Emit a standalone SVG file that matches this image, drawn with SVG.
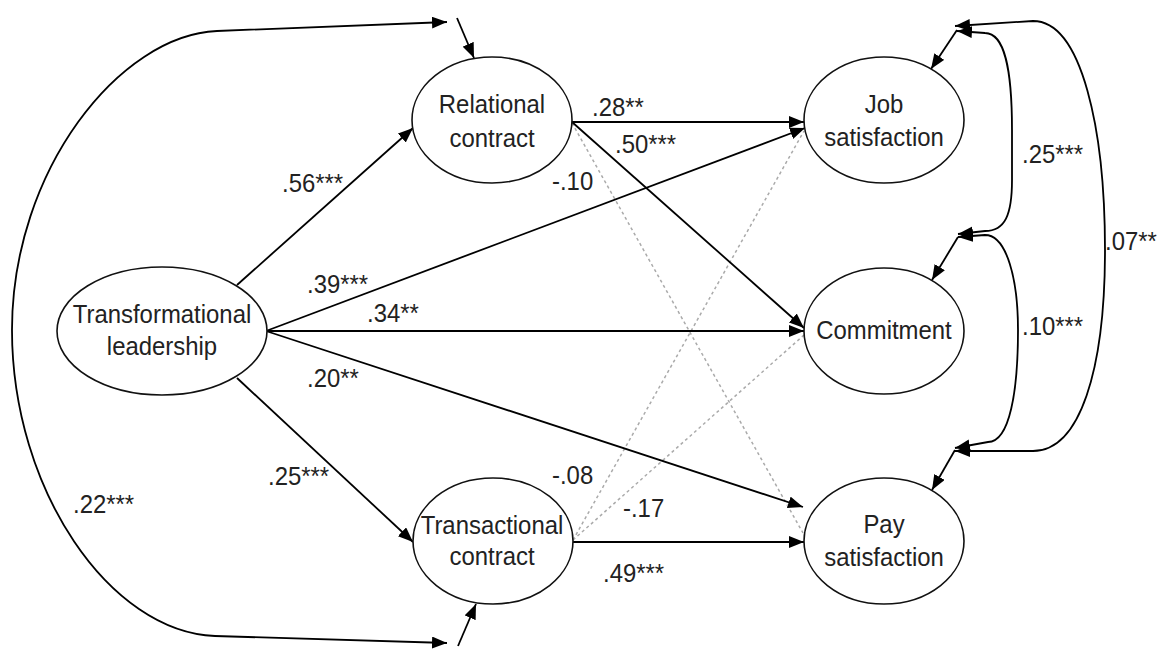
<svg xmlns="http://www.w3.org/2000/svg" width="1158" height="655" viewBox="0 0 1158 655">
<defs>
<marker id="arr" markerUnits="userSpaceOnUse" markerWidth="15" markerHeight="12" refX="15" refY="6" orient="auto-start-reverse" viewBox="0 0 15 12">
<path d="M0,0 L15,6 L0,12 z" fill="#000"/>
</marker>
<style>
.node ellipse{fill:#fff;stroke:#111;stroke-width:1.6}
.nt{font-family:"Liberation Sans",Arial,sans-serif;font-size:26px;fill:#222;text-anchor:middle}
.lb{font-family:"Liberation Sans",Arial,sans-serif;font-size:26px;fill:#222}
.c{fill:none;stroke:#000;stroke-width:1.8}
.a{marker-end:url(#arr)}
.b{marker-start:url(#arr);marker-end:url(#arr)}
.d{fill:none;stroke:#aaa;stroke-width:1.5;stroke-dasharray:3 3}
</style>
</defs>
<rect width="1158" height="655" fill="#fff"/>
<g id="connectors">
<line class="d" x1="572" y1="123" x2="803" y2="533"/>
<line class="d" x1="573" y1="540" x2="804" y2="131"/>
<line class="d" x1="573" y1="540" x2="804" y2="335"/>
<line class="c a" x1="237" y1="285" x2="413" y2="128"/>
<line class="c a" x1="237" y1="378" x2="413" y2="542"/>
<line class="c a" x1="266" y1="331" x2="805" y2="128"/>
<line class="c a" x1="267" y1="331" x2="804" y2="331"/>
<line class="c a" x1="266" y1="331" x2="803" y2="507"/>
<line class="c a" x1="572" y1="122" x2="804" y2="122"/>
<line class="c a" x1="572" y1="122" x2="804" y2="328"/>
<line class="c a" x1="573" y1="542" x2="804" y2="542"/>
<path class="c b" d="M447 22 L217 31 C120 35 12 170 12 330 C12 490 110 632 215 636 L447 643"/>
<line class="c a" x1="457" y1="18" x2="474" y2="58"/>
<line class="c a" x1="458" y1="646" x2="476" y2="604"/>
<path class="c b" d="M955 26 L1033 21 C1082 21 1105 130 1105 250 C1105 370 1080 451 1033 451 L955 451"/>
<path class="c b" d="M957 31 L985 33 C1005 33 1012 70 1012 130 L1012 180 C1012 215 1005 231 985 231 L958 234"/>
<path class="c b" d="M958 237 L985 235 C1007 235 1018 280 1018 330 C1018 390 1010 442 988 442 L955 448"/>
<line class="c a" x1="957" y1="30" x2="931" y2="69"/>
<line class="c a" x1="958" y1="237" x2="932" y2="280"/>
<line class="c a" x1="955" y1="450" x2="932" y2="490"/>
</g>
<g id="labels">
<text class="lb" transform="translate(282 192) scale(.92 1)">.56***</text>
<text class="lb" transform="translate(307 293) scale(.92 1)">.39***</text>
<text class="lb" transform="translate(367 322) scale(.92 1)">.34**</text>
<text class="lb" transform="translate(307 387) scale(.92 1)">.20**</text>
<text class="lb" transform="translate(268 485) scale(.92 1)">.25***</text>
<text class="lb" transform="translate(73 513) scale(.92 1)">.22***</text>
<text class="lb" transform="translate(592 116) scale(.92 1)">.28**</text>
<text class="lb" transform="translate(615 153) scale(.92 1)">.50***</text>
<text class="lb" transform="translate(552 190) scale(.92 1)">-.10</text>
<text class="lb" transform="translate(552 484) scale(.92 1)">-.08</text>
<text class="lb" transform="translate(623 517) scale(.92 1)">-.17</text>
<text class="lb" transform="translate(603 582) scale(.92 1)">.49***</text>
<text class="lb" transform="translate(1022 163) scale(.92 1)">.25***</text>
<text class="lb" transform="translate(1022 335) scale(.92 1)">.10***</text>
<text class="lb" transform="translate(1105 250) scale(.92 1)">.07**</text>
</g>
<g id="tl" class="node"><ellipse cx="162" cy="331" rx="105" ry="64"/><text class="nt" transform="translate(162 323) scale(.92 1)">Transformational</text><text class="nt" transform="translate(162 355) scale(.92 1)">leadership</text></g>
<g id="rel" class="node"><ellipse cx="492" cy="120" rx="80" ry="63"/><text class="nt" transform="translate(492 113) scale(.92 1)">Relational</text><text class="nt" transform="translate(492 147) scale(.92 1)">contract</text></g>
<g id="trans" class="node"><ellipse cx="493" cy="541" rx="80" ry="63"/><text class="nt" transform="translate(492 534) scale(.92 1)">Transactional</text><text class="nt" transform="translate(492 565) scale(.92 1)">contract</text></g>
<g id="job" class="node"><ellipse cx="884" cy="120" rx="80" ry="63"/><text class="nt" transform="translate(884 113) scale(.92 1)">Job</text><text class="nt" transform="translate(884 146) scale(.92 1)">satisfaction</text></g>
<g id="com" class="node"><ellipse cx="884" cy="331" rx="80" ry="63"/><text class="nt" transform="translate(884 339) scale(.92 1)">Commitment</text></g>
<g id="pay" class="node"><ellipse cx="884" cy="541" rx="80" ry="63"/><text class="nt" transform="translate(884 533) scale(.92 1)">Pay</text><text class="nt" transform="translate(884 566) scale(.92 1)">satisfaction</text></g>
</svg>
